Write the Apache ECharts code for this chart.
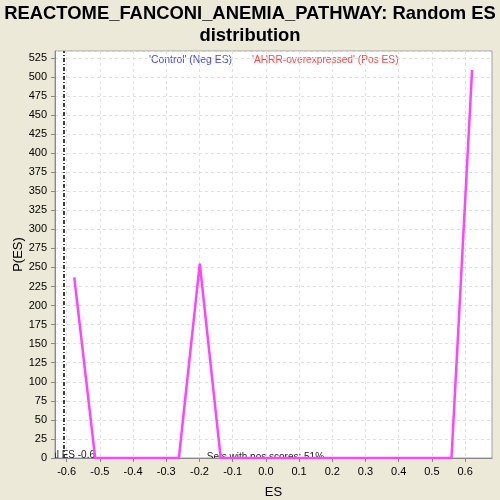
<!DOCTYPE html>
<html>
<head>
<meta charset="utf-8">
<script src="https://cdn.jsdelivr.net/npm/echarts@6/dist/echarts.min.js"></script>
<style>html,body{margin:0;padding:0;background:#ece9d8;}#c{width:500px;height:500px;}</style>
</head>
<body>
<div id="c"></div>
<script>
var esValues = [-0.577,-0.514,-0.451,-0.388,-0.325,-0.262,-0.199,-0.136,-0.072,-0.009,0.054,0.117,0.180,0.243,0.306,0.369,0.432,0.496,0.559,0.621];
var pValues  = [237,0,0,0,0,0,255,0,0,0,0,0,0,0,0,0,0,0,0,509];
var xTicks = [-0.6,-0.5,-0.4,-0.3,-0.2,-0.1,0.0,0.1,0.2,0.3,0.4,0.5,0.6];
var actualES = -0.607;
var titleText = "REACTOME_FANCONI_ANEMIA_PATHWAY: Random ES\ndistribution";
var negLegend = "'Control' (Neg ES)";
var posLegend = "'AHRR-overexpressed' (Pos ES)";
var actualLabel = "Actual ES -0.6";
var posScoresLabel = "Sets with pos scores: 51%";

var chart = echarts.init(document.getElementById('c'), null, {renderer: 'canvas'});
var font = 'Liberation Sans, Arial, sans-serif';
var lineData = esValues.map(function(x, i){ return [x, pValues[i]]; });

chart.setOption({
  backgroundColor: '#ece9d8',
  animation: false,
  title: {
    text: titleText, left: 'center', top: -2,
    textStyle: {fontFamily: font, fontWeight: 'bold', fontSize: 18.4, color: '#000', lineHeight: 22}
  },
  grid: {left: 55, right: 8, top: 51, bottom: 42, outerBoundsMode: 'none', containLabel: false,
    show: true, backgroundColor: '#fff', borderColor: '#a0a0a0', borderWidth: 1},
  xAxis: {
    type: 'value', min: -0.635, max: 0.681,
    name: 'ES', nameLocation: 'middle', nameGap: 28,
    nameTextStyle: {fontFamily: font, fontSize: 13, color: '#000'},
    axisLine: {onZero: false, lineStyle: {color: '#888'}},
    axisTick: {lineStyle: {color: '#888'}, length: 4, customValues: xTicks},
    axisLabel: {fontFamily: font, fontSize: 11, color: '#000', customValues: xTicks, hideOverlap: false,
      formatter: function(v){ return v.toFixed(1); }},
    splitLine: {show: true, lineStyle: {color: '#e0e0e0', type: [3,3]}}
  },
  yAxis: {
    type: 'value', min: 0, max: 534, interval: 25,
    name: 'P(ES)', nameLocation: 'middle', nameGap: 30, nameRotate: 90, nameMoveOverlap: false,
    nameTextStyle: {fontFamily: font, fontSize: 13, color: '#000'},
    axisLine: {show: true, onZero: false, lineStyle: {color: '#888'}},
    axisTick: {show: true, lineStyle: {color: '#888'}, length: 4},
    axisLabel: {fontFamily: font, fontSize: 11, color: '#000', showMaxLabel: false,
      formatter: function(v){ return (v % 25 === 0) ? String(v) : ''; }},
    splitLine: {show: true, lineStyle: {color: '#e0e0e0', type: [3,3]}}
  },
  series: [
    {
      type: 'line', data: lineData, symbol: 'none',
      lineStyle: {color: '#ff44ff', width: 2.5},
      z: 5,
      markLine: {
        silent: true, symbol: 'none', label: {show: false},
        lineStyle: {color: '#404040', type: [4,2,1,2], width: 2},
        data: [{xAxis: actualES}]
      }
    },
    {
      type: 'custom', clip: true, z: 3,
      data: [[-0.707, 0, 0], [-0.178, 0, 1]],
      renderItem: function(params, api){
        var p = api.coord([api.value(0), api.value(1)]);
        var idx = api.value(2);
        return {
          type: 'text',
          style: {
            x: p[0], y: p[1] + (idx === 0 ? 2 : 4.5),
            text: idx === 0 ? actualLabel : posScoresLabel,
            fontFamily: font, fontSize: 10, fill: '#222',
            align: 'left', verticalAlign: 'bottom'
          }
        };
      }
    }
  ],
  graphic: [
    {type: 'text', left: 149, top: 55, style: {text: negLegend, fontFamily: font, fontSize: 10.4, fill: '#4444ff'}},
    {type: 'text', left: 252, top: 55, style: {text: posLegend, fontFamily: font, fontSize: 10.2, fill: '#ff4444'}}
  ]
});
</script>
</body>
</html>
